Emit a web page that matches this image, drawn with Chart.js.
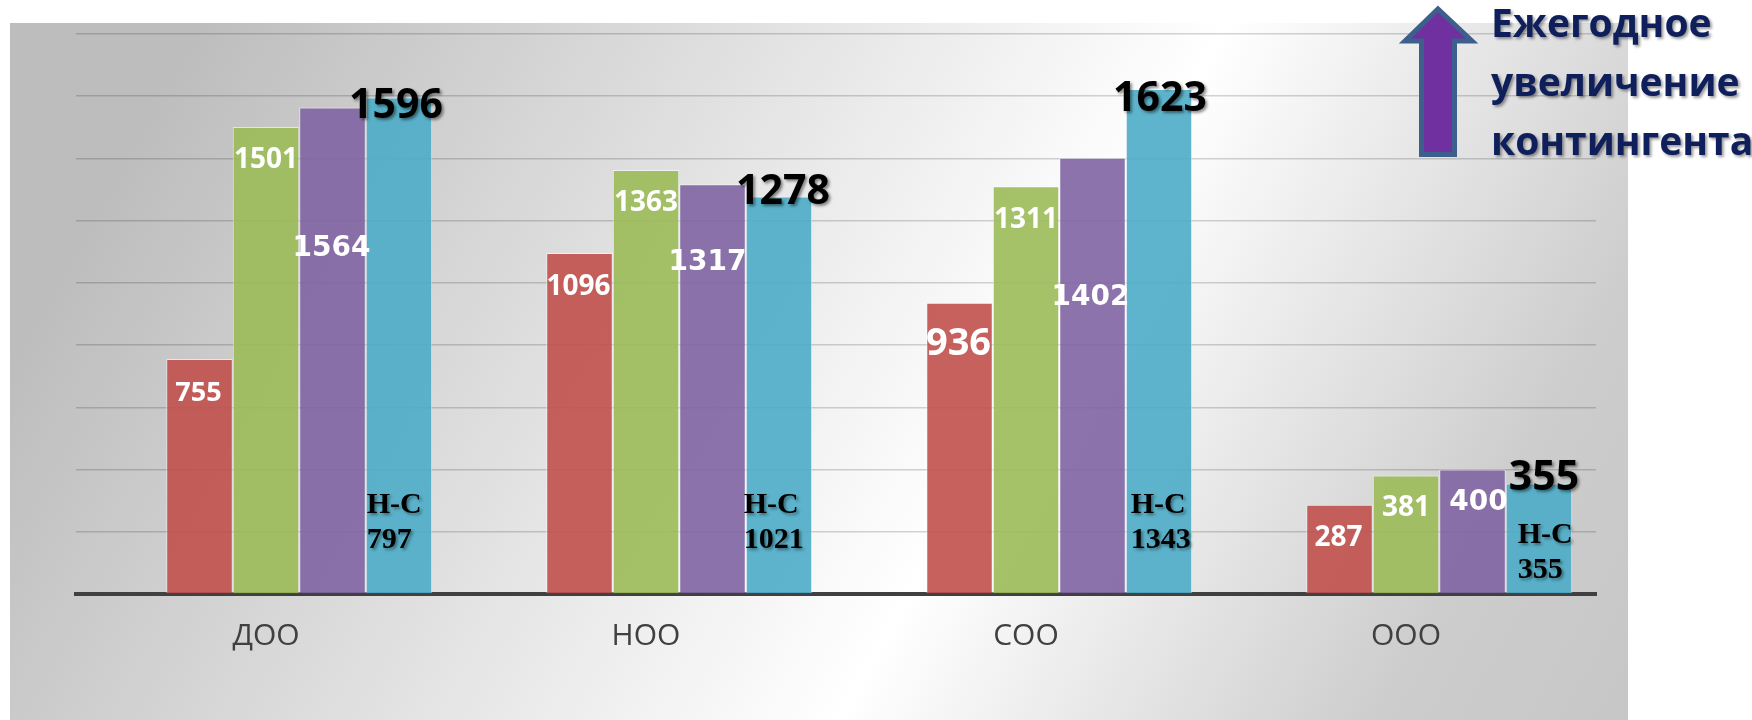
<!DOCTYPE html>
<html lang="ru">
<head>
<meta charset="utf-8">
<title>Контингент</title>
<script src="https://cdn.jsdelivr.net/npm/chart.js@4.4.1/dist/chart.umd.min.js"></script>
<style>
  html, body { margin: 0; padding: 0; background: #fff; }
  #wrap { width: 1752px; height: 720px; }
</style>
</head>
<body>
<div id="wrap"><canvas id="chart-contingent" width="1752" height="720"></canvas></div>
<script>
// Values
const categories = ['ДОО', 'НОО', 'СОО', 'ООО'];
const seriesRed = [755, 1096, 936, 287];
const seriesGreen = [1501, 1363, 1311, 381];
const seriesPurple = [1564, 1317, 1402, 400];
const seriesCyan = [1596, 1278, 1623, 355];
const nsValues = [797, 1021, 1343, 355];      // "Н-С" notes in the last bar
const spacer = [null, null, null, null];       // empty slot, the slide's groups sit off-centre
const noteLines = ['Ежегодное', 'увеличение', 'контингента'];
const Y_MAX = 1800;
const Y_STEP = 200;

// label look per series: font, size per category, offset from bar top / centre
const labelStyles = [
    { family: '"Open Sans"', size: [27, 28, 38, 28], color: '#ffffff', dy: [34, 34, 41, 33], dx: [-1, -1, -1, -1], shadow: false },
    { family: '"Open Sans"', size: [28, 28, 28, 28], color: '#ffffff', dy: [33, 33, 34, 33], dx: [0, 0, 0, 0], shadow: false },
    { family: '"DejaVu Sans"', size: [28, 28, 28, 28], color: '#ffffff', dy: [141, 78, 140, 33], dx: [-1, -5, -2, 6], shadow: false },
    { family: '"Open Sans"', size: [41, 41, 41, 41], color: '#000000', dy: [9, -4, 10, -5], dx: [-3, 4, 1, 5], shadow: true }
];
const nsPlace = { dx: [1, -2, 5, 12], line1: [89, 89, 89, 59], line2: [54, 54, 54, 24] };

const panelBackground = {
    id: 'panelBackground',
    beforeDraw(chart) {
        const ctx = chart.ctx;
        const g = ctx.createLinearGradient(249, -69, 1821, 809);
        g.addColorStop(0, '#bdbdbd');
        g.addColorStop(0.5, '#ffffff');
        g.addColorStop(0.76, '#cdcdcd');
        g.addColorStop(1, '#c0c0c0');
        ctx.save();
        ctx.fillStyle = g;
        ctx.fillRect(10, 23, 1618, 697);
        ctx.restore();
    }
};

function shadowOn(ctx, a) {
    ctx.shadowColor = 'rgba(0,0,0,' + a + ')';
    ctx.shadowOffsetX = 2;
    ctx.shadowOffsetY = 2;
    ctx.shadowBlur = 3;
}

const valueLabels = {
    id: 'valueLabels',
    afterDatasetsDraw(chart) {
        const ctx = chart.ctx;
        const base = chart.scales.y.getPixelForValue(0);
        ctx.save();
        ctx.textAlign = 'center';
        ctx.textBaseline = 'middle';
        labelStyles.forEach((st, s) => {
            const meta = chart.getDatasetMeta(s + 1);
            const values = chart.data.datasets[s + 1].data;
            meta.data.forEach((bar, i) => {
                ctx.save();
                if (st.shadow) shadowOn(ctx, 0.45);
                ctx.font = 'bold ' + st.size[i] + 'px ' + st.family;
                ctx.fillStyle = st.color;
                ctx.fillText(String(values[i]), bar.x + st.dx[i], bar.y + st.dy[i]);
                ctx.restore();
            });
        });

        // Н-С notes, serif, left aligned inside the cyan bar
        const cyan = chart.getDatasetMeta(4);
        ctx.textAlign = 'left';
        ctx.font = 'bold 30px "Liberation Serif"';
        ctx.fillStyle = '#000';
        shadowOn(ctx, 0.4);
        cyan.data.forEach((bar, i) => {
            const left = bar.x - bar.width / 2 + nsPlace.dx[i];
            ctx.fillText('Н-С', left, base - nsPlace.line1[i]);
            ctx.fillText(String(nsValues[i]), left, base - nsPlace.line2[i]);
        });
        ctx.restore();
    }
};

const growthNote = {
    id: 'growthNote',
    afterDraw(chart) {
        const ctx = chart.ctx;
        ctx.save();
        ctx.beginPath();
        ctx.moveTo(1438, 9);
        ctx.lineTo(1472, 41);
        ctx.lineTo(1454.5, 41);
        ctx.lineTo(1454.5, 154.5);
        ctx.lineTo(1421.5, 154.5);
        ctx.lineTo(1421.5, 41);
        ctx.lineTo(1405, 41);
        ctx.closePath();
        ctx.fillStyle = '#7030a0';
        ctx.fill();
        ctx.lineJoin = 'miter';
        ctx.lineWidth = 5;
        ctx.strokeStyle = '#3d5f8c';
        ctx.stroke();

        ctx.font = 'bold 39px "Open Sans"';
        ctx.fillStyle = '#0e1f5b';
        ctx.textAlign = 'left';
        ctx.textBaseline = 'alphabetic';
        shadowOn(ctx, 0.4);
        noteLines.forEach((t, i) => ctx.fillText(t, 1491, 37 + i * 59));
        ctx.restore();
    }
};

function barSet(data, rgb) {
    return {
        data: data,
        backgroundColor: 'rgba(' + rgb + ',0.9)',
        borderColor: 'rgba(255,255,255,0.55)',
        borderWidth: 1,
        categoryPercentage: 0.875,
        barPercentage: 1.0
    };
}

new Chart(document.getElementById('chart-contingent'), {
    type: 'bar',
    data: {
        labels: categories,
        datasets: [
            barSet(spacer, '0,0,0'),
            barSet(seriesRed, '192,80,77'),
            barSet(seriesGreen, '155,187,89'),
            barSet(seriesPurple, '128,100,162'),
            barSet(seriesCyan, '75,172,198')
        ]
    },
    options: {
        responsive: false,
        animation: false,
        devicePixelRatio: 1,
        layout: { padding: { top: 34, right: 156, left: 0, bottom: 0 } },
        plugins: { legend: { display: false }, tooltip: { enabled: false } },
        scales: {
            x: {
                grid: { display: false, drawTicks: false },
                border: { display: true, color: '#404040', width: 4 },
                ticks: { color: '#404040', font: { family: 'Open Sans', size: 30 }, padding: 24 },
                afterFit(scale) { scale.height = 126; }
            },
            y: {
                min: 0,
                max: Y_MAX,
                ticks: { display: false, stepSize: Y_STEP },
                grid: { color: 'rgba(0,0,0,0.17)', lineWidth: 1.5, drawTicks: false },
                border: { display: false },
                afterFit(scale) { scale.width = 76; }
            }
        }
    },
    plugins: [panelBackground, valueLabels, growthNote]
});
</script>
</body>
</html>
